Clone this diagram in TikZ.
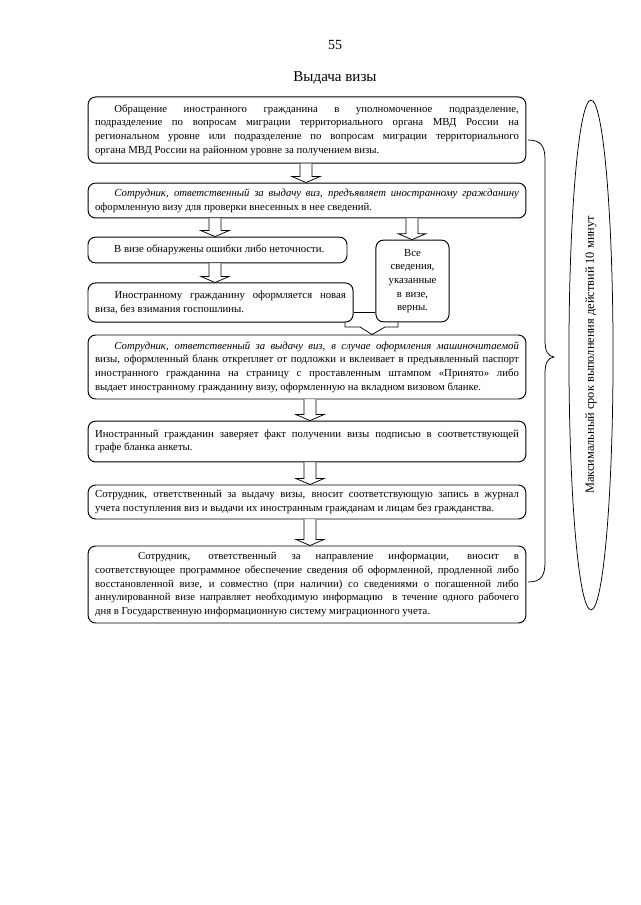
\documentclass[tikz,border=0pt]{standalone}
\usepackage{fontspec}
\setmainfont{Liberation Serif}
\usetikzlibrary{calc,shapes.geometric}
\newlength\ux
\setlength\ux{0.9297pt}
\newcommand\blockarr[2]{\draw[arrline] let \p1=#1, \p2=#2 in
  (\x1-6*\ux,\y1) -- (\x1-6*\ux,\y2+6*\ux) -- (\x1-14*\ux,\y2+6*\ux) -- (\x1,\y2)
  -- (\x1+14*\ux,\y2+6*\ux) -- (\x1+6*\ux,\y2+6*\ux) -- (\x1+6*\ux,\y1);}
\begin{document}
\begin{tikzpicture}[x=0.9297pt,y=-0.9297pt,
  box/.style={draw, line width=0.9pt, rounded corners=7pt, align=justify, inner sep=0pt,
    font=\fontsize{10}{12.7}\selectfont},
  widebox/.style={box, minimum width=407pt, text width=394pt},
  arrline/.style={draw, line width=0.7pt, fill=white},
  thin/.style={line width=0.7pt}
]
\useasboundingbox (0,0) rectangle (640,905);
\fill[white] (0,0) rectangle (640,905);

\node[font=\fontsize{13}{15}\selectfont] (pg) at (335,45) {55};
\node[font=\fontsize{14}{16}\selectfont] (ttl) at (335,78) {Выдача визы};

\node[widebox, minimum height=61.4pt] (b1) at (307,130) {\hspace*{18pt}Обращение иностранного гражданина в уполномоченное подразделение,\linebreak подразделение по вопросам миграции территориального органа МВД России на\linebreak региональном уровне или подразделение по вопросам миграции территориального\linebreak органа МВД России на районном уровне за получением визы.};

\node[widebox, minimum height=32.5pt] (b2) at (307,200.5) {\hspace*{18pt}\textit{Сотрудник, ответственный за выдачу виз, предъявляет иностранному гражданину}\linebreak оформленную визу для проверки внесенных в нее сведений.};

\node[box, minimum width=240.8pt, minimum height=24pt, text width=228pt] (b3) at (217.5,250) {\hspace*{18pt}В визе обнаружены ошибки либо неточности.};

\node[box, minimum width=246.4pt, minimum height=36.3pt, text width=233pt] (b4) at (220.5,302.5) {\hspace*{18pt}Иностранному гражданину оформляется новая\linebreak виза, без взимания госпошлины.};

\node[box, align=center, minimum width=68pt, minimum height=76pt, text width=62pt] (bv) at (412.5,281) {Все\\ сведения,\\ указанные\\ в визе,\\ верны.};

\node[widebox, minimum height=59.5pt] (b5) at (307,367) {\hspace*{18pt}\textit{Сотрудник, ответственный за выдачу виз, в случае оформления машиночитаемой}\linebreak визы, оформленный бланк открепляет от подложки и вклеивает в предъявленный паспорт\linebreak иностранного гражданина на страницу с проставленным штампом «Принято» либо\linebreak выдает иностранному гражданину визу, оформленную на вкладном визовом бланке.};

\node[widebox, minimum height=38pt] (b6) at (307,441.5) {Иностранный гражданин заверяет факт получении визы подписью в соответствующей\linebreak графе бланка анкеты.};

\node[widebox, minimum height=31.6pt] (b7) at (307,502) {Сотрудник, ответственный за выдачу визы, вносит соответствующую запись в журнал\linebreak учета поступления виз и выдачи их иностранным гражданам и лицам без гражданства.};

\node[widebox, minimum height=71.6pt] (b8) at (307,584.5) {\hspace*{40pt}Сотрудник, ответственный за направление информации, вносит в\linebreak соответствующее программное обеспечение сведения об оформленной, продленной либо\linebreak восстановленной визе, и совместно (при наличии) со сведениями о погашенной либо\linebreak аннулированной визе направляет необходимую информацию\ \ в течение одного рабочего\linebreak дня в Государственную информационную систему миграционного учета.};

\coordinate (xa) at (306,0);
\coordinate (xl) at (215,0);
\coordinate (xr) at (412,0);
\coordinate (xc) at (310,0);
\blockarr{(xa |- b1.south)}{(xa |- b2.north)}
\blockarr{(xl |- b2.south)}{(xl |- b3.north)}
\blockarr{(xr |- b2.south)}{(xr |- bv.north)}
\blockarr{(xl |- b3.south)}{(xl |- b4.north)}
\blockarr{(xc |- b5.south)}{(xc |- b6.north)}
\blockarr{(xc |- b6.south)}{(xc |- b7.north)}
\blockarr{(xc |- b7.south)}{(xc |- b8.north)}

\coordinate (my) at (0,312);
\coordinate (mb) at (0,327);
\coordinate (ml) at (345,0);
\coordinate (mr) at (398,0);
\coordinate (hl) at (360,0);
\coordinate (hr) at (385,0);
\coordinate (mt) at (372,0);
\draw[thin] (b4.east |- my) -- (bv.west |- my);
\draw[thin] (ml |- b4.south) -- (ml |- mb) -- (hl |- mb) -- (mt |- b5.north) -- (hr |- mb) -- (mr |- mb) -- (mr |- bv.south);

\draw[thin] (528,140) .. controls (541,140) and (545,146) .. (545,160) -- (545,340)
  .. controls (545,352) and (548,356) .. (554,357)
  .. controls (548,358) and (545,362) .. (545,374) -- (545,562)
  .. controls (545,576) and (541,582) .. (528,582);

\node[draw, ellipse, thin, rotate=90, minimum width=474pt, minimum height=41pt, inner sep=0pt,
  font=\fontsize{11.5}{13}\selectfont] (el) at (591,355) {Максимальный срок выполнения действий 10 минут};
\end{tikzpicture}
\end{document}
